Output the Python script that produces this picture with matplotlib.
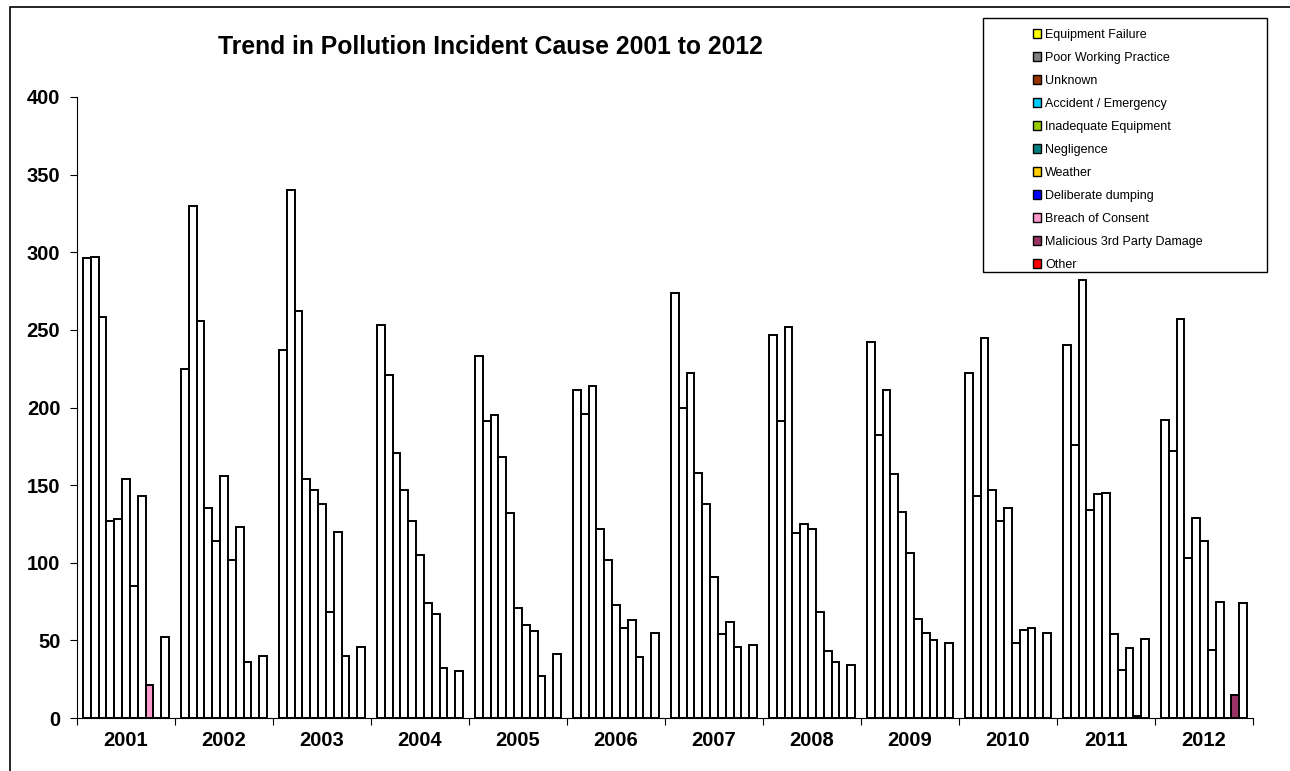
import matplotlib.pyplot as plt
import numpy as np
from matplotlib.patches import Patch, Rectangle

plt.rcParams['font.family'] = ['Liberation Sans', 'DejaVu Sans']

years = ['2001', '2002', '2003', '2004', '2005', '2006',
         '2007', '2008', '2009', '2010', '2011', '2012']

causes = ['Equipment Failure', 'Poor Working Practice', 'Unknown',
          'Accident / Emergency', 'Inadequate Equipment', 'Negligence',
          'Weather', 'Deliberate dumping', 'Breach of Consent',
          'Malicious 3rd Party Damage', 'Other']

equipment_failure = [296, 225, 237, 253, 233, 211, 274, 247, 242, 222, 240, 192]
poor_working_practice = [297, 330, 340, 221, 191, 196, 200, 191, 182, 143, 176, 172]
unknown = [258, 256, 262, 171, 195, 214, 222, 252, 211, 245, 282, 257]
accident_emergency = [127, 135, 154, 147, 168, 122, 158, 119, 157, 147, 134, 103]
inadequate_equipment = [128, 114, 147, 127, 132, 102, 138, 125, 133, 127, 144, 129]
negligence = [154, 156, 138, 105, 71, 73, 91, 122, 106, 135, 145, 114]
weather = [85, 102, 68, 74, 60, 58, 54, 68, 64, 48, 54, 44]
deliberate_dumping = [143, 123, 120, 67, 56, 63, 62, 43, 55, 57, 31, 75]
breach_of_consent = [21, 36, 40, 32, 27, 39, 46, 36, 50, 58, 45, 0]
malicious_damage = [0, 0, 0, 0, 0, 0, 0, 0, 0, 0, 1, 15]
other = [52, 40, 46, 30, 41, 55, 47, 34, 48, 55, 51, 74]

series = [equipment_failure, poor_working_practice, unknown, accident_emergency,
          inadequate_equipment, negligence, weather, deliberate_dumping,
          breach_of_consent, malicious_damage, other]

colors = ['#FFFF00', '#808080', '#993300', '#00CCFF', '#99CC00', '#008080',
          '#FFCC00', '#0000FF', '#FF99CC', '#993366', '#FF0000']

# only these points keep their series colour, the rest are drawn white
coloured_points = {('Breach of Consent', '2001'),
                   ('Malicious 3rd Party Damage', '2012')}

fig = plt.figure(figsize=(12.9, 7.71), dpi=100)
ax = fig.add_axes([77 / 1290, 53 / 771, 1176 / 1290, 621 / 771])

n = len(causes)
width = 1 / (n + 1.5)
x = np.arange(len(years))
for j, (name, vals, col) in enumerate(zip(causes, series, colors)):
    faces = [col if (name, y) in coloured_points else 'white' for y in years]
    ax.bar(x + 0.75 * width + j * width, vals, width, align='edge',
           color=faces, edgecolor='black', linewidth=1.4)

ax.set_xlim(0, len(years))
ax.set_ylim(0, 400)
ax.set_yticks(np.arange(0, 401, 50))
ax.set_xticks(np.arange(0, len(years) + 1))
ax.set_xticklabels([])
ax.set_xticks(x + 0.5, minor=True)
ax.set_xticklabels(years, minor=True)
ax.tick_params(axis='x', which='minor', length=0, pad=9)
ax.tick_params(axis='x', which='major', length=5, direction='out')
ax.tick_params(axis='y', length=5, direction='out', pad=7)
for lab in ax.get_xticklabels(minor=True) + ax.get_yticklabels():
    lab.set_fontsize(14.5)
    lab.set_fontweight('bold')
ax.spines['top'].set_visible(False)
ax.spines['right'].set_visible(False)

fig.text(490 / 1290, 1 - 47 / 771, 'Trend in Pollution Incident Cause 2001 to 2012',
         ha='center', va='center', fontsize=17.8, fontweight='bold')

# chart area border (top and left edges visible)
fig.add_artist(Rectangle((10 / 1290, -0.1), 1.0, 1.1 - 7 / 771, fill=False,
                         edgecolor='black', linewidth=1.2,
                         transform=fig.transFigure))

# legend box
fig.add_artist(Rectangle((983 / 1290, 1 - 272 / 771), 284 / 1290, 254 / 771,
                         facecolor='white', edgecolor='black', linewidth=1.0,
                         transform=fig.transFigure, zorder=5))
handles = [Patch(facecolor=c, edgecolor='black', linewidth=1.0) for c in colors]
leg = fig.legend(handles, causes, loc='upper left',
                 bbox_to_anchor=(1033 / 1290, 1 - 29 / 771), frameon=False,
                 fontsize=9, handlelength=0.65, handleheight=0.65,
                 handletextpad=0.3, labelspacing=0.88, borderpad=0,
                 borderaxespad=0)
leg.set_zorder(6)

fig.savefig('out.png', dpi=100)
